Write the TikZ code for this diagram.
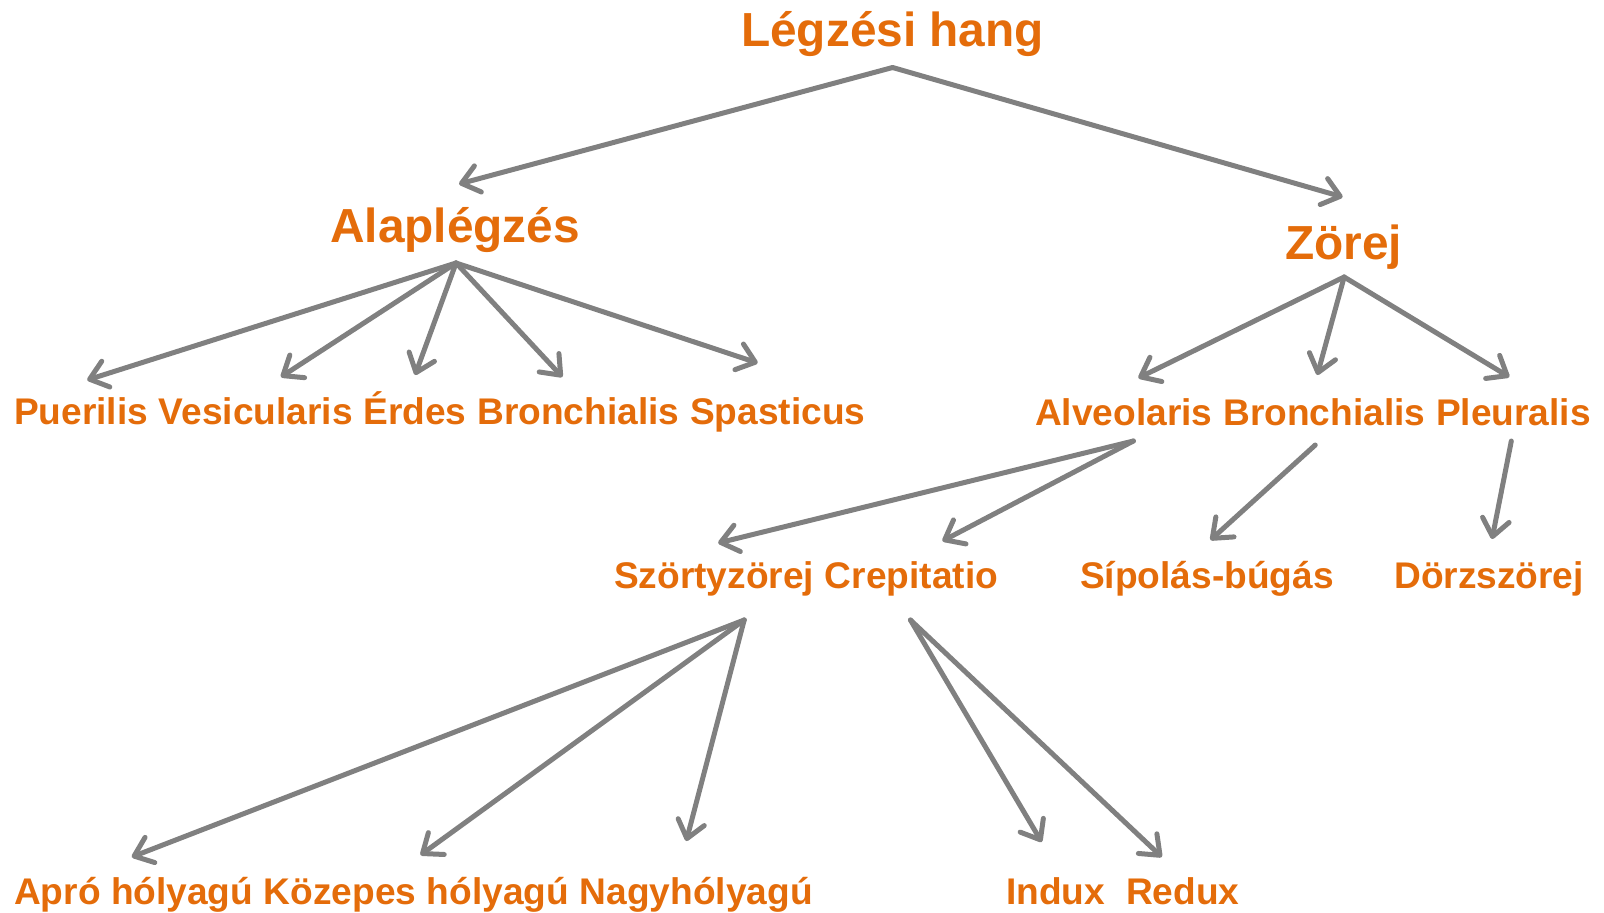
\documentclass[tikz,border=0pt]{standalone}
\usepackage{fontspec}
\setmainfont{Liberation Sans}
\usetikzlibrary{arrows.meta,calc}
\definecolor{lblorange}{HTML}{E46C0A}
\definecolor{arrgray}{HTML}{808080}
\tikzset{
  big/.style={inner sep=0pt, anchor=base west, text=lblorange, font=\fontsize{47.8}{50}\selectfont\bfseries},
  lbl/.style={inner sep=0pt, anchor=base west, text=lblorange, font=\fontsize{37.1}{40}\selectfont\bfseries},
  arr/.style={draw=arrgray, line width=5pt, line cap=round, line join=round,
    -{Straight Barb[length=17pt,width=27pt,round]}}
}
\begin{document}
\begin{tikzpicture}[x=1pt,y=-1pt]
\useasboundingbox (0,0) rectangle (1604,913);
% level 1 and 2
\node[big] (title) at (741,46) {Légzési hang};
\node[big] (alap) at (330,242) {Alaplégzés};
\node[big] (zor) at (1285,259) {Zörej};
% row 3 left
\node[lbl] (pue) at (14,424.5) {Puerilis};
\node[lbl] (ves) at ($(pue.base east)+(10.3,0)$) {Vesicularis};
\node[lbl] (erd) at ($(ves.base east)+(10.3,0)$) {Érdes};
\node[lbl] (bro) at ($(erd.base east)+(10.3,0)$) {Bronchialis};
\node[lbl] (spa) at ($(bro.base east)+(10.3,0)$) {Spasticus};
% row 3 right
\node[lbl] (alv) at (1035,425) {Alveolaris};
\node[lbl] (brr) at ($(alv.base east)+(10.3,0)$) {Bronchialis};
\node[lbl] (ple) at ($(brr.base east)+(10.3,0)$) {Pleuralis};
% row 4
\node[lbl] (szo) at (614,588) {Szörtyzörej};
\node[lbl] (cre) at ($(szo.base east)+(10.3,0)$) {Crepitatio};
\node[lbl] (sip) at (1080,588) {Sípolás-búgás};
\node[lbl] (dor) at (1394,588) {Dörzszörej};
% row 5
\node[lbl] (apr) at (14,904) {Apró hólyagú};
\node[lbl] (koz) at ($(apr.base east)+(10.3,0)$) {Közepes hólyagú};
\node[lbl] (nag) at ($(koz.base east)+(10.3,0)$) {Nagyhólyagú};
\node[lbl] (ind) at (1006,904) {Indux};
\node[lbl] (red) at ($(ind.base east)+(20.6,0)$) {Redux};
% connectors
\coordinate (tS) at ($(title.base)+(0,21.5)$);
\draw[arr] (tS) -- ($(alap.base)+(4,-58)$);
\draw[arr] (tS) -- ($(zor.base)+(-1,-62)$);
\coordinate (aS) at ($(alap.base)+(1,21)$);
\draw[arr] (aS) -- ($(pue.base)+(6,-44.5)$);
\draw[arr] (aS) -- ($(ves.base)+(25,-47.5)$);
\draw[arr] (aS) -- ($(erd.base)+(0,-49.5)$);
\draw[arr] (aS) -- ($(bro.base)+(-16,-47.5)$);
\draw[arr] (aS) -- ($(spa.base)+(-20,-61.5)$);
\coordinate (zS) at ($(zor.base)+(0.5,18)$);
\draw[arr] (zS) -- ($(alv.base)+(14.5,-47)$);
\draw[arr] (zS) -- ($(brr.base)+(-7,-50)$);
\draw[arr] (zS) -- ($(ple.base)+(-4,-48)$);
\coordinate (alS) at ($(alv.base)+(9.5,16)$);
\draw[arr] (alS) -- ($(szo.base)+(4,-45)$);
\draw[arr] (alS) -- ($(cre.base)+(31,-47)$);
\draw[arr] ($(brr.base)+(-9,20)$) -- ($(sip.base)+(3.5,-48)$);
\draw[arr] ($(ple.base)+(-2,16)$) -- ($(dor.base)+(3,-49)$);
\coordinate (sS) at ($(szo.base)+(30,32)$);
\draw[arr] (sS) -- ($(apr.base)+(-2,-47)$);
\draw[arr] (sS) -- ($(koz.base)+(4,-49)$);
\draw[arr] (sS) -- ($(nag.base)+(-10,-63)$);
\coordinate (cS) at ($(cre.base)+(-1,32)$);
\draw[arr] (cS) -- ($(ind.base)+(-14,-62)$);
\draw[arr] (cS) -- ($(red.base)+(-21,-47)$);
\end{tikzpicture}
\end{document}
